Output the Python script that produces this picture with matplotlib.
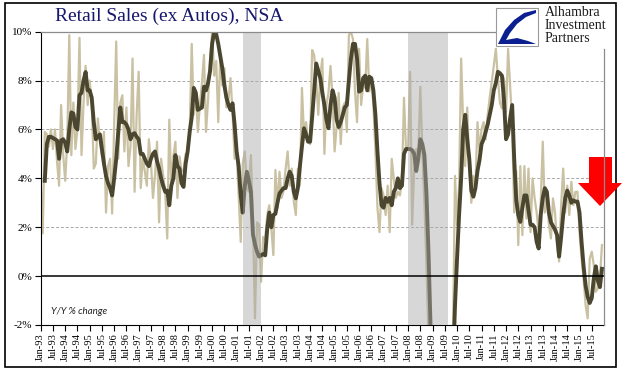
import numpy as np
import pandas as pd
import matplotlib
matplotlib.use("Agg")
import matplotlib.pyplot as plt
from matplotlib.patches import Rectangle, Polygon

# monthly Y/Y % change, Jan-93 .. Dec-15
monthly = [
    3.9, 1.75, 5.9, 5.8, 5.3, 6.0, 5.2, 6.0, 4.7, 3.7, 7.0, 5.0,        # 1993
    3.9, 5.5, 9.86, 4.95, 7.1, 5.2, 6.0, 9.75, 4.95, 7.1, 8.6, 7.0,     # 1994
    8.0, 7.1, 4.4, 4.6, 6.45, 5.5, 4.9, 5.9, 2.6, 4.5, 4.8, 2.56,       # 1995
    6.2, 9.6, 4.8, 7.1, 7.4, 5.1, 6.9, 4.5, 5.3, 8.9, 3.45, 6.6,        # 1996
    8.36, 3.6, 4.8, 4.3, 3.7, 5.6, 4.7, 3.2, 4.1, 5.5, 2.2, 4.8,        # 1997
    4.1, 3.45, 1.54, 6.4, 3.7, 4.9, 5.5, 3.2, 4.9, 4.3, 4.3, 5.0,       # 1998
    4.95, 5.9, 9.5, 6.6, 7.55, 5.9, 7.0, 7.9, 9.05, 5.9, 7.2, 8.9,      # 1999
    10.0, 8.2, 8.8, 6.3, 9.05, 7.8, 8.5, 6.9, 7.2, 8.1, 6.7, 4.8,       # 2000
    5.1, 3.3, 1.4, 4.6, 5.1, 3.6, 3.45, 4.95, 2.2, -1.73, 2.2, 2.1,     # 2001
    -0.23, 1.6, 1.5, 2.5, 2.9, 1.95, 0.86, 4.34, 2.8, 4.27, 3.2, 3.5,   # 2002
    4.4, 5.1, 3.7, 4.4, 3.05, 2.5, 4.4, 3.7, 7.7, 5.8, 6.3, 5.5,        # 2003
    5.4, 9.25, 9.05, 8.0, 6.6, 8.2, 8.9, 5.0, 7.0, 7.5, 8.6, 7.3,       # 2004
    5.1, 6.1, 7.5, 5.4, 6.9, 7.1, 5.9, 9.86, 10.0, 9.7, 7.55, 6.3,      # 2005
    9.3, 7.0, 7.8, 7.7, 9.7, 7.55, 8.1, 7.0, 5.1, 2.8, 1.8, 3.6,        # 2006
    3.3, 2.5, 3.7, 1.8, 4.8, 4.0, 3.2, 3.45, 3.3, 3.9, 7.3, 5.2,        # 2007
    5.2, 8.36, 2.1, 4.4, 5.2, 4.95, 7.75, 5.1, 3.0, 0.45, -2.5, -5.5,   # 2008
    -8.0, -9.0, -10.0, -9.5, -9.5, -8.5, -8.0, -7.5, -6.5, -5.0, -2.5, 4.1,  # 2009
    2.1, 3.7, 8.9, 6.2, 4.5, 6.9, 4.4, 3.0, 4.1, 3.6, 6.3, 5.1,         # 2010
    6.0, 6.3, 5.6, 6.6, 7.3, 7.95, 8.6, 9.3, 8.1, 7.1, 6.86, 8.1,       # 2011
    6.7, 9.3, 7.8, 6.2, 2.6, 4.3, 1.27, 4.5, 1.68, 4.5, 2.36, 4.4,      # 2012
    1.8, 4.0, 3.2, 2.6, 1.8, 3.05, 5.5, 2.6, 3.3, 2.1, 1.54, 3.18,      # 2013
    2.6, 1.27, 0.6, 2.9, 4.4, 2.6, 3.7, 2.5, 3.86, 2.9, 3.45, 3.45,     # 2014
    1.8, 0.72, -0.1, -1.2, -1.73, 0.72, 1.0, 0.45, -0.64, -0.5, -0.1, 1.27,  # 2015
]

# 3-month average (dark line)
smoothed = [
    np.nan, np.nan, 3.9, 5.4, 5.7, 5.7, 5.65, 5.6, 5.55, 4.8, 5.55, 5.6,
    5.45, 5.1, 6.0, 6.7, 6.65, 6.1, 6.0, 7.4, 7.5, 8.0, 8.35, 7.6,
    7.6, 7.3, 6.3, 5.6, 5.7, 5.8, 5.2, 4.6, 4.1, 3.8, 3.6, 3.3,
    4.0, 4.8, 5.9, 6.9, 6.3, 6.3, 6.2, 6.0, 5.6, 5.8, 5.85, 5.7,
    5.6, 5.0, 5.0, 4.8, 4.6, 4.5, 4.8, 5.0, 5.1, 4.7, 4.4, 4.0,
    3.7, 3.45, 3.5, 2.9, 3.7, 4.0, 4.95, 4.5, 4.4, 3.8, 3.65, 4.6,
    5.1, 5.9, 6.5, 7.7, 7.5, 6.8, 6.85, 6.9, 7.75, 7.6, 7.9, 8.4,
    9.5, 10.0, 9.9, 9.5, 9.0, 8.5, 7.8, 7.3, 7.0, 6.8, 7.07, 6.2,
    5.1, 4.5, 3.3, 2.6, 3.7, 4.27, 3.9, 3.45, 1.7, 1.3, 1.0, 0.8,
    0.86, 0.9, 0.85, 1.95, 2.6, 2.0, 2.5, 2.55, 3.0, 3.38, 3.5, 3.6,
    3.6, 4.0, 4.27, 4.1, 3.45, 3.18, 3.6, 4.5, 5.3, 6.05, 5.8, 5.5,
    5.5, 6.5, 7.6, 8.7, 8.4, 8.1, 7.5, 7.0, 6.4, 6.05, 7.0, 7.6,
    7.3, 6.4, 6.1, 6.3, 6.6, 6.9, 7.0, 8.0, 8.9, 9.5, 9.5, 8.9,
    7.55, 7.6, 8.1, 8.2, 7.6, 8.16, 8.1, 7.6, 6.6, 5.1, 3.8, 2.9,
    2.8, 3.2, 3.04, 3.2, 2.9, 3.45, 3.6, 4.0, 3.6, 3.7, 5.0, 5.2,
    5.2, 5.2, 5.15, 5.0, 4.3, 4.8, 5.6, 5.4, 4.95, 3.4, 1.0, -2.1,
    -5.0, -7.0, -8.5, -9.0, -9.2, -9.0, -8.5, -8.0, -7.0, -6.0, -3.8, -1.2,
    0.72, 2.5, 4.0, 6.0, 6.6, 5.6, 4.8, 3.5, 3.25, 3.6, 4.3, 4.75,
    5.4, 5.6, 5.9, 6.2, 6.6, 7.0, 7.6, 7.9, 8.36, 8.3, 8.2, 7.2,
    5.6, 5.8, 6.45, 7.0, 4.8, 3.1, 2.5, 2.22, 2.8, 3.3, 3.3, 2.7,
    2.1, 2.1, 2.0, 1.4, 1.13, 2.5, 3.2, 3.6, 3.45, 2.6, 2.2, 2.05,
    1.9, 1.68, 0.8, 1.6, 2.5, 3.2, 3.5, 3.3, 3.0, 3.1, 3.05, 3.05,
    2.6, 1.4, 0.4, -0.4, -0.85, -1.1, -0.9, -0.1, 0.4, -0.2, -0.45, 0.3,
]

months = pd.date_range("1993-01-01", periods=len(monthly), freq="MS")
month_labels = list(months.strftime("%b-%y"))

# recession bands, as month offsets from Jan-93
recessions = [(99.3, 108.0), (180.0, 199.6)]

W, H = 629, 375
fig = plt.figure(figsize=(W / 100, H / 100), dpi=100)
ax = fig.add_axes([40.7 / W, 1 - 325 / H, (604 - 40.7) / W, (325 - 31.7) / H])

x = np.arange(len(monthly))
ax.plot(x, monthly, color="#c9c1a2", lw=1.6, zorder=2)
ax.plot(x, smoothed, color="#4b4630", lw=2.8, zorder=3)
for a, b in recessions:
    ax.axvspan(a, b, color="#a8a8a8", alpha=0.45, lw=0, zorder=4)

ax.set_xlim(0, 276)
ax.set_ylim(-2, 10)
ax.set_yticks(range(-2, 11, 2))
ax.set_yticklabels([f"{v}%" for v in range(-2, 11, 2)],
                   family="Liberation Serif", fontsize=8)
ax.set_xticks(x[::6])
ax.set_xticklabels(month_labels[::6], rotation=90,
                   family="Liberation Serif", fontsize=7.5)
ax.tick_params(axis="both", direction="out", length=4, width=0.8, pad=2,
               color="black")

for v in (2, 4, 6, 8):
    ax.axhline(v, color="#a8a8a8", lw=0.7, ls=(0, (3, 2)), zorder=1)
ax.axhline(0, color="black", lw=1.1, zorder=5)

ax.spines["left"].set_color("black")
ax.spines["bottom"].set_color("black")
ax.spines["top"].set_visible(False)
ax.spines["right"].set_visible(False)

# top line stops at the logo, right line starts below it
fig.add_artist(plt.Line2D([40.7 / W, 495 / W], [1 - 31.7 / H] * 2,
                          color="#8c8c8c", lw=0.9))
fig.add_artist(plt.Line2D([604 / W] * 2, [1 - 49 / H, 1 - 325 / H],
                          color="#8c8c8c", lw=0.9))

ax.text(5, -1.55, "Y/Y % change", fontsize=7, style="italic",
        family="Lato", color="#222222")

fig.text(55 / W, 1 - 16 / H, "Retail Sales (ex Autos), NSA",
         family="Liberation Serif", fontsize=14, color="#17176b",
         va="center", ha="left")

# frame round the whole picture
fig.add_artist(Rectangle((5 / W, 1 - 367 / H), 611 / W, 364 / H,
                         fill=False, ec="black", lw=1.2,
                         transform=fig.transFigure))

# logo
fig.add_artist(Rectangle((496 / W, 1 - 46 / H), 42 / W, 38 / H,
                         fc="white", ec="#9a9a9a", lw=0.8,
                         transform=fig.transFigure))
def px(pts):
    return [(px_ / W, 1 - py / H) for px_, py in pts]
fig.add_artist(Polygon(px([(498, 44), (505, 30), (514, 20), (524, 13),
                           (536, 10), (536, 13), (526, 17), (517, 24),
                           (510, 33), (506, 40), (517, 38), (528, 41),
                           (536, 44)]),
                       closed=True, fc="#0b1f91", ec="none",
                       transform=fig.transFigure))
for k, word in enumerate(["Alhambra", "Investment", "Partners"]):
    fig.text(545 / W, 1 - (12 + k * 13.5) / H, word, family="Liberation Serif",
             fontsize=10, color="#1c1c1c", va="center", ha="left")

# red arrow
fig.add_artist(Polygon(px([(589, 157), (612, 157), (612, 183), (622, 183),
                           (600, 206), (578, 183), (589, 183)]),
                       closed=True, fc="#ff0000", ec="none",
                       transform=fig.transFigure))

fig.savefig("out.png", dpi=100)
